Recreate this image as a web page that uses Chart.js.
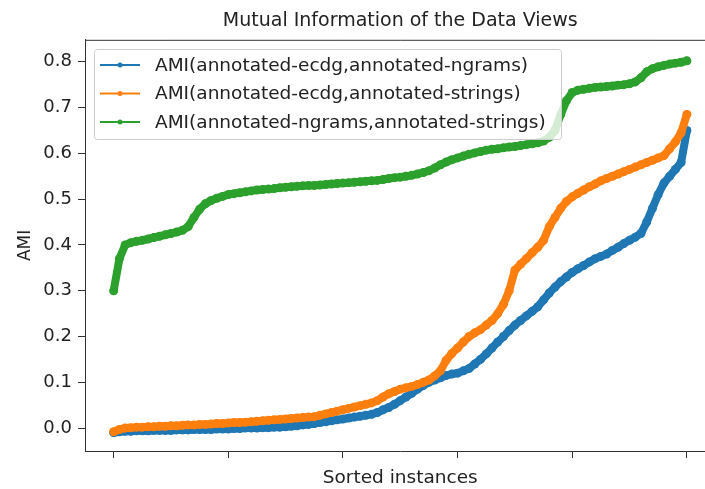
<!DOCTYPE html>
<html>
<head>
<meta charset="utf-8">
<script src="https://cdn.jsdelivr.net/npm/chart.js@4.4.0/dist/chart.umd.min.js"></script>
<style>
  html, body { margin: 0; padding: 0; background: #fff; }
  #wrap { width: 705px; height: 489px; overflow: hidden; }
  canvas { display: block; }
</style>
</head>
<body>
<div id="wrap"><canvas id="amiChart" width="720" height="489" style="width:720px;height:489px"></canvas></div>
<script>
"use strict";

var seriesNames = [
    'AMI(annotated-ecdg,annotated-ngrams)',
    'AMI(annotated-ecdg,annotated-strings)',
    'AMI(annotated-ngrams,annotated-strings)'
];
var seriesColors = ['#1f77b4', '#ff7f0e', '#2ca02c'];

// rank of the instance after sorting (0..100)
var instances = Array.from({length: 101}, function (_, i) { return i; });

var ecdgNgrams = [
    -0.010, -0.008, -0.007, -0.007, -0.006, -0.006, -0.006, -0.005, -0.005, -0.005,
    -0.005, -0.004, -0.004, -0.004, -0.003, -0.003, -0.003, -0.003, -0.002, -0.002,
    -0.002, -0.001, -0.001, 0.000, 0.000, 0.000, 0.001, 0.001, 0.002, 0.002,
    0.003, 0.004, 0.005, 0.007, 0.008, 0.010, 0.012, 0.014, 0.016, 0.018,
    0.020, 0.022, 0.024, 0.026, 0.028, 0.030, 0.034, 0.040, 0.045, 0.052,
    0.060, 0.068, 0.076, 0.085, 0.093, 0.100, 0.105, 0.110, 0.115, 0.118,
    0.120, 0.125, 0.130, 0.140, 0.150, 0.162, 0.175, 0.188, 0.200, 0.213,
    0.225, 0.235, 0.245, 0.255, 0.265, 0.280, 0.295, 0.308, 0.320, 0.330,
    0.340, 0.348, 0.355, 0.363, 0.370, 0.375, 0.380, 0.388, 0.395, 0.403,
    0.410, 0.417, 0.425, 0.450, 0.480, 0.510, 0.535, 0.550, 0.565, 0.580,
    0.650
];

var ecdgStrings = [
    -0.008, -0.003, 0.000, 0.001, 0.002, 0.002, 0.003, 0.003, 0.004, 0.004,
    0.005, 0.005, 0.006, 0.007, 0.007, 0.008, 0.008, 0.009, 0.010, 0.010,
    0.011, 0.012, 0.012, 0.013, 0.014, 0.015, 0.016, 0.017, 0.018, 0.019,
    0.020, 0.021, 0.022, 0.023, 0.024, 0.025, 0.028, 0.031, 0.034, 0.037,
    0.040, 0.043, 0.046, 0.049, 0.052, 0.055, 0.060, 0.068, 0.075, 0.080,
    0.085, 0.088, 0.091, 0.095, 0.100, 0.105, 0.114, 0.125, 0.148, 0.163,
    0.175, 0.188, 0.200, 0.208, 0.215, 0.225, 0.235, 0.250, 0.270, 0.300,
    0.345, 0.358, 0.370, 0.383, 0.395, 0.410, 0.440, 0.460, 0.480, 0.495,
    0.505, 0.513, 0.520, 0.527, 0.533, 0.540, 0.545, 0.550, 0.555, 0.560,
    0.565, 0.570, 0.575, 0.580, 0.585, 0.590, 0.595, 0.610, 0.625, 0.645,
    0.685
];

var ngramsStrings = [
    0.300, 0.370, 0.400, 0.405, 0.408, 0.410, 0.413, 0.416, 0.419, 0.422,
    0.425, 0.428, 0.432, 0.440, 0.460, 0.478, 0.490, 0.497, 0.502, 0.506,
    0.510, 0.512, 0.514, 0.516, 0.518, 0.520, 0.521, 0.522, 0.523, 0.525,
    0.526, 0.527, 0.528, 0.529, 0.530, 0.530, 0.531, 0.532, 0.533, 0.534,
    0.535, 0.536, 0.537, 0.538, 0.539, 0.540, 0.541, 0.543, 0.545, 0.547,
    0.548, 0.550, 0.552, 0.555, 0.558, 0.562, 0.568, 0.575, 0.581, 0.586,
    0.590, 0.594, 0.598, 0.601, 0.604, 0.607, 0.609, 0.610, 0.612, 0.614,
    0.615, 0.617, 0.619, 0.621, 0.623, 0.627, 0.635, 0.650, 0.685, 0.715,
    0.733, 0.738, 0.740, 0.742, 0.744, 0.745, 0.746, 0.747, 0.749, 0.750,
    0.752, 0.756, 0.765, 0.778, 0.785, 0.789, 0.792, 0.795, 0.797, 0.799,
    0.802
];

var xTicks = [0, 20, 40, 60, 80, 100];
var yTicks = [0, 0.1, 0.2, 0.3, 0.4, 0.5, 0.6, 0.7, 0.8];

var allSeries = [ecdgNgrams, ecdgStrings, ngramsStrings];
var FONT = "'DejaVu Sans', sans-serif";

function toPoints(values) {
    return values.map(function (v, i) { return {x: instances[i], y: v}; });
}

// legend drawn inside the axes, like matplotlib's "best" location
var insideLegend = {
    id: 'insideLegend',
    afterDatasetsDraw: function (chart) {
        var ctx = chart.ctx;
        var bx = 94, by = 49, bw = 467, bh = 90;
        ctx.save();
        ctx.beginPath();
        ctx.roundRect(bx + 0.5, by + 0.5, bw, bh, 3);
        ctx.fillStyle = 'rgba(255,255,255,0.8)';
        ctx.fill();
        ctx.strokeStyle = '#cccccc';
        ctx.lineWidth = 1;
        ctx.stroke();

        ctx.font = '18.5px ' + FONT;
        ctx.textBaseline = 'middle';
        chart.data.datasets.forEach(function (ds, i) {
            var y = 65 + i * 28.5;
            ctx.strokeStyle = ds.borderColor;
            ctx.lineWidth = 2;
            ctx.beginPath();
            ctx.moveTo(100, y);
            ctx.lineTo(140, y);
            ctx.stroke();
            ctx.fillStyle = ds.borderColor;
            ctx.beginPath();
            ctx.arc(120, y, 2.5, 0, Math.PI * 2);
            ctx.fill();
            ctx.fillStyle = '#222';
            ctx.fillText(ds.label, 155, y + 1);
        });
        ctx.restore();
    }
};

// top spine (the right one falls outside the visible page)
var frame = {
    id: 'frame',
    afterDraw: function (chart) {
        var a = chart.chartArea, ctx = chart.ctx;
        ctx.save();
        ctx.strokeStyle = '#333';
        ctx.lineWidth = 1;
        ctx.beginPath();
        ctx.moveTo(a.left, a.top + 0.5);
        ctx.lineTo(a.right, a.top + 0.5);
        ctx.stroke();
        ctx.restore();
    }
};

var ctx = document.getElementById('amiChart');
var amiChart = new Chart(ctx, {
    type: 'line',
    data: {
        datasets: allSeries.map(function (vals, i) {
            return {
                label: seriesNames[i],
                data: toPoints(vals),
                borderColor: seriesColors[i],
                backgroundColor: seriesColors[i],
                borderWidth: 8,
                borderJoinStyle: 'round',
                borderCapStyle: 'round',
                pointRadius: 4.5,
                pointBorderWidth: 0,
                pointHoverRadius: 4.5,
                tension: 0,
                fill: false,
                order: 2 - i
            };
        })
    },
    options: {
        responsive: false,
        animation: false,
        devicePixelRatio: 1,
        layout: { padding: { left: 0, right: 3, top: 0, bottom: 0 } },
        plugins: {
            legend: { display: false },
            tooltip: { enabled: false },
            title: {
                display: true,
                fullSize: false,
                text: 'Mutual Information of the Data Views',
                color: '#222',
                font: { family: FONT, size: 19, weight: 'normal' },
                padding: { top: 10, bottom: 7 }
            }
        },
        scales: {
            x: {
                type: 'linear',
                min: -5,
                max: 105,
                afterBuildTicks: function (s) {
                    s.ticks = xTicks.map(function (v) { return {value: v}; });
                },
                afterFit: function (s) { s.height = 38; },
                ticks: {
                    autoSkip: false,
                    callback: function () { return ''; }
                },
                grid: { drawOnChartArea: false, drawTicks: true, tickLength: 7, color: '#333' },
                border: { display: true, color: '#333', width: 1 },
                title: {
                    display: true,
                    text: 'Sorted instances',
                    color: '#222',
                    font: { family: FONT, size: 18.5 },
                    padding: { top: 0, bottom: 0 }
                }
            },
            y: {
                min: -0.05,
                max: 0.848,
                afterBuildTicks: function (s) {
                    s.ticks = yTicks.map(function (v) { return {value: v}; });
                },
                afterFit: function (s) { s.width = 85; },
                ticks: {
                    autoSkip: false,
                    padding: 6,
                    color: '#222',
                    font: { family: FONT, size: 18 },
                    callback: function (v) { return v.toFixed(1); }
                },
                grid: { drawOnChartArea: false, drawTicks: true, tickLength: 7, color: '#333' },
                border: { display: true, color: '#333', width: 1 },
                title: {
                    display: true,
                    text: 'AMI',
                    color: '#222',
                    font: { family: FONT, size: 17 },
                    padding: { top: 15, bottom: 0 }
                }
            }
        }
    },
    plugins: [insideLegend, frame]
});
</script>
</body>
</html>
